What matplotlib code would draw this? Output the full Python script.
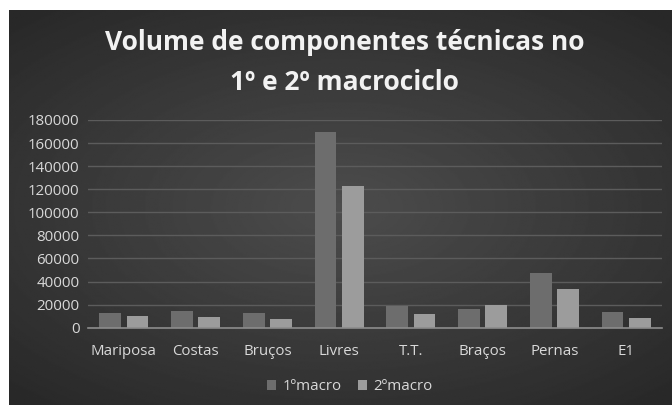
import numpy as np
import matplotlib
matplotlib.use("Agg")
import matplotlib.pyplot as plt

# data
categorias = ["Mariposa", "Costas", "Bruços", "Livres", "T.T.", "Braços", "Pernas", "E1"]
macro1 = [12500, 14200, 12500, 169600, 18800, 16200, 47400, 13300]
macro2 = [10100, 9300, 7500, 122800, 11600, 19700, 33300, 8400]
series_labels = ["1ºmacro", "2ºmacro"]
y_ticks = [0, 20000, 40000, 60000, 80000, 100000, 120000, 140000, 160000, 180000]

plt.rcParams["font.family"] = ["Open Sans", "DejaVu Sans"]
txt = "#d9d9d9"

fig = plt.figure(figsize=(6.72, 4.05), dpi=100)
fig.patch.set_facecolor("white")

# dark panel with radial gradient
bg = fig.add_axes([9 / 672, 0, 1 - 9 / 672, 1 - 10 / 405])
yy, xx = np.mgrid[-1:1:300j, -1:1:500j]
r = np.sqrt((xx / 1.1) ** 2 + (yy / 1.0) ** 2)
shade = 0.30 - 0.14 * np.clip(r, 0, 1.3) / 1.3
bg.imshow(shade, cmap="gray", vmin=0, vmax=1, aspect="auto", extent=[0, 1, 0, 1])
bg.set_axis_off()

ax = fig.add_axes([88 / 672, 1 - 327.7 / 405, 574 / 672, 207.7 / 405])
ax.set_facecolor("none")
x = np.arange(len(categorias))
w = 0.30
ax.bar(x - 0.19, macro1, w, color="#6d6d6d", label=series_labels[0], zorder=3)
ax.bar(x + 0.19, macro2, w, color="#9c9c9c", label=series_labels[1], zorder=3)

ax.set_xlim(-0.5, len(categorias) - 0.5)
ax.set_ylim(0, 180000)
ax.set_yticks(y_ticks)
ax.set_yticklabels([str(v) for v in y_ticks])
ax.set_xticks(x)
ax.set_xticklabels(categorias)
ax.tick_params(axis="both", length=0, colors=txt, labelsize=10.8)
ax.tick_params(axis="x", pad=12)
ax.tick_params(axis="y", pad=6)
ax.grid(axis="y", color="#5c5c5c", linewidth=1, zorder=0)
for s in ["top", "right", "left"]:
    ax.spines[s].set_visible(False)
ax.spines["bottom"].set_color("#8c8c8c")
ax.spines["bottom"].set_linewidth(1.2)
ax.spines["bottom"].set_zorder(4)

fig.text(0.513, 1 - 43 / 405, "Volume de componentes técnicas no", ha="center", va="center",
         color="#f2f2f2", fontsize=19, fontweight="bold")
fig.text(0.513, 1 - 82 / 405, "1º e 2º macrociclo", ha="center", va="center",
         color="#f2f2f2", fontsize=19, fontweight="bold")

leg = ax.legend(loc="center", bbox_to_anchor=(0.456, -0.285), ncol=2, frameon=False,
                fontsize=10.8, handlelength=0.6, handleheight=0.6, handletextpad=0.4,
                columnspacing=1.1)
for t in leg.get_texts():
    t.set_color(txt)

fig.savefig("out.png", dpi=100, facecolor=fig.get_facecolor())
